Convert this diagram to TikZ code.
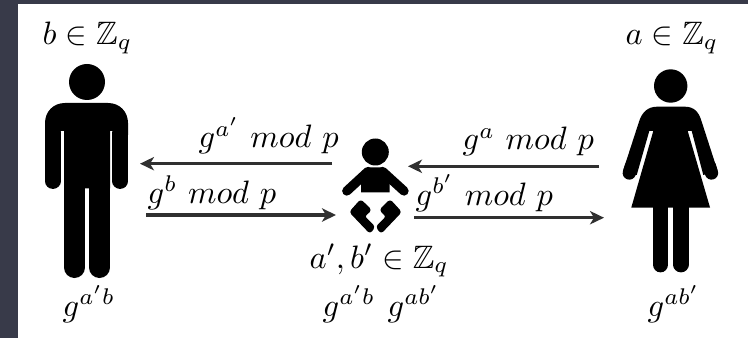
\documentclass[tikz,border=0pt]{standalone}
\usepackage{amssymb}
\usetikzlibrary{arrows.meta}
\definecolor{slatebg}{HTML}{383A49}
\definecolor{arrowc}{HTML}{303030}
\tikzset{
  px/.style={x=0.75pt,y=-0.75pt},
  flow/.style={draw=arrowc,line width=2.5pt,-{Stealth[length=10.5pt,width=10pt,inset=3pt]}},
  lbl/.style={inner sep=0pt,scale=2.43,text=black,anchor=base west},
  limb/.style={draw=black,line cap=round,line join=round},
  diaper/.style={fill=black,draw=black,line width=1pt,line join=round,rounded corners=2pt},
}
\begin{document}
\begin{tikzpicture}[px]
\useasboundingbox (0,0) rectangle (748,338);
\fill[slatebg] (0,0) rectangle (748,338);
\fill[white] (18,4) rectangle (748,338);
% man
\fill (87,82) circle (18);
\fill (45,135) -- (45,123) .. controls (45,112) and (53,103) .. (65,103) -- (108,103) .. controls (120,103) and (128,112) .. (128,123) -- (128,135) -- (113,135) -- (113,131) -- (110,131) -- (110,188.5) -- (64,188.5) -- (64,131) -- (60.5,131) -- (60.5,135) -- cycle;
\draw[limb,line width=11.6pt] (52.8,133) -- (52.8,181.2);
\draw[limb,line width=11.6pt] (120.2,133) -- (120.2,181.2);
\fill (64,180) rectangle (85,267.5);
\fill (89,180) rectangle (110,267.5);
\draw[limb,line width=15.75pt] (74.5,190) -- (74.5,267.5);
\draw[limb,line width=15.75pt] (99.5,190) -- (99.5,267.5);
% baby
\fill (375.3,152) circle (13.5);
\fill (361,192.5) -- (361,175) -- (368.3,167.3) -- (382.3,167.3) -- (389.6,175) -- (389.6,192.5) -- cycle;
\draw[limb,line width=7pt] (368,171.5) -- (346.8,191);
\draw[limb,line width=7pt] (382.6,171.5) -- (404,191);
\path[diaper] (360.7,200) -- (371,210) -- (364,216.5) -- (374.5,226.7) -- (370,233) -- (350,212) -- cycle;
\path[diaper] (390,200) -- (380,210) -- (386.7,216.5) -- (376.5,226.7) -- (381,233) -- (401,212) -- cycle;
% woman
\fill (670.7,86) circle (16.7);
\fill (653.3,131) -- (649.3,131) -- (636.7,175) -- (623.3,170) -- (639,121.7) .. controls (642,112) and (648,106.7) .. (657,106.7) -- (685,106.7) .. controls (694,106.7) and (699,112) .. (701.7,121.7) -- (717.3,170) -- (703.3,175) -- (691.7,131) -- (687.7,131) -- (710,207.5) -- (631.3,207.5) -- cycle;
\draw[limb,line width=10pt] (629.3,173) -- (631.5,166);
\draw[limb,line width=10pt] (711.5,173) -- (709.3,166);
\draw[limb,line width=11.8pt] (660.5,205) -- (660.5,264.5);
\draw[limb,line width=11.8pt] (680.8,205) -- (680.8,264.5);
% arrows
\coordinate (tlS) at (332,163.7); \coordinate (tlE) at (140,163.7);
\coordinate (blS) at (146,215); \coordinate (blE) at (336,215);
\coordinate (trS) at (599,166.3); \coordinate (trE) at (408,166.3);
\coordinate (brS) at (414,217.7); \coordinate (brE) at (604,217.7);
\draw[flow] (tlS) -- (tlE);
\draw[flow] (blS) -- (blE);
\draw[flow] (trS) -- (trE);
\draw[flow] (brS) -- (brE);
% labels
\node[lbl] (lb) at (42,44.5) {$b\in\mathbb{Z}_q$};
\node[lbl] (la) at (625,44.5) {$a\in\mathbb{Z}_q$};
\node[lbl] (m1) at (198,148) {$g^{a'}\ mod\ p$};
\node[lbl] (m2) at (147,203.3) {$g^{b}\ mod\ p$};
\node[lbl] (m3) at (462,150) {$g^{a}\ mod\ p$};
\node[lbl] (m4) at (415,205) {$g^{b'}\ mod\ p$};
\node[lbl] (ch) at (309,268) {$a',b'\in\mathbb{Z}_q$};
\node[lbl] (k1) at (62,316) {$g^{a'b}$};
\node[lbl] (k2) at (322,316) {$g^{a'b}$};
\node[lbl] (k3) at (387,316) {$g^{ab'}$};
\node[lbl] (k4) at (647,316) {$g^{ab'}$};
\end{tikzpicture}
\end{document}
